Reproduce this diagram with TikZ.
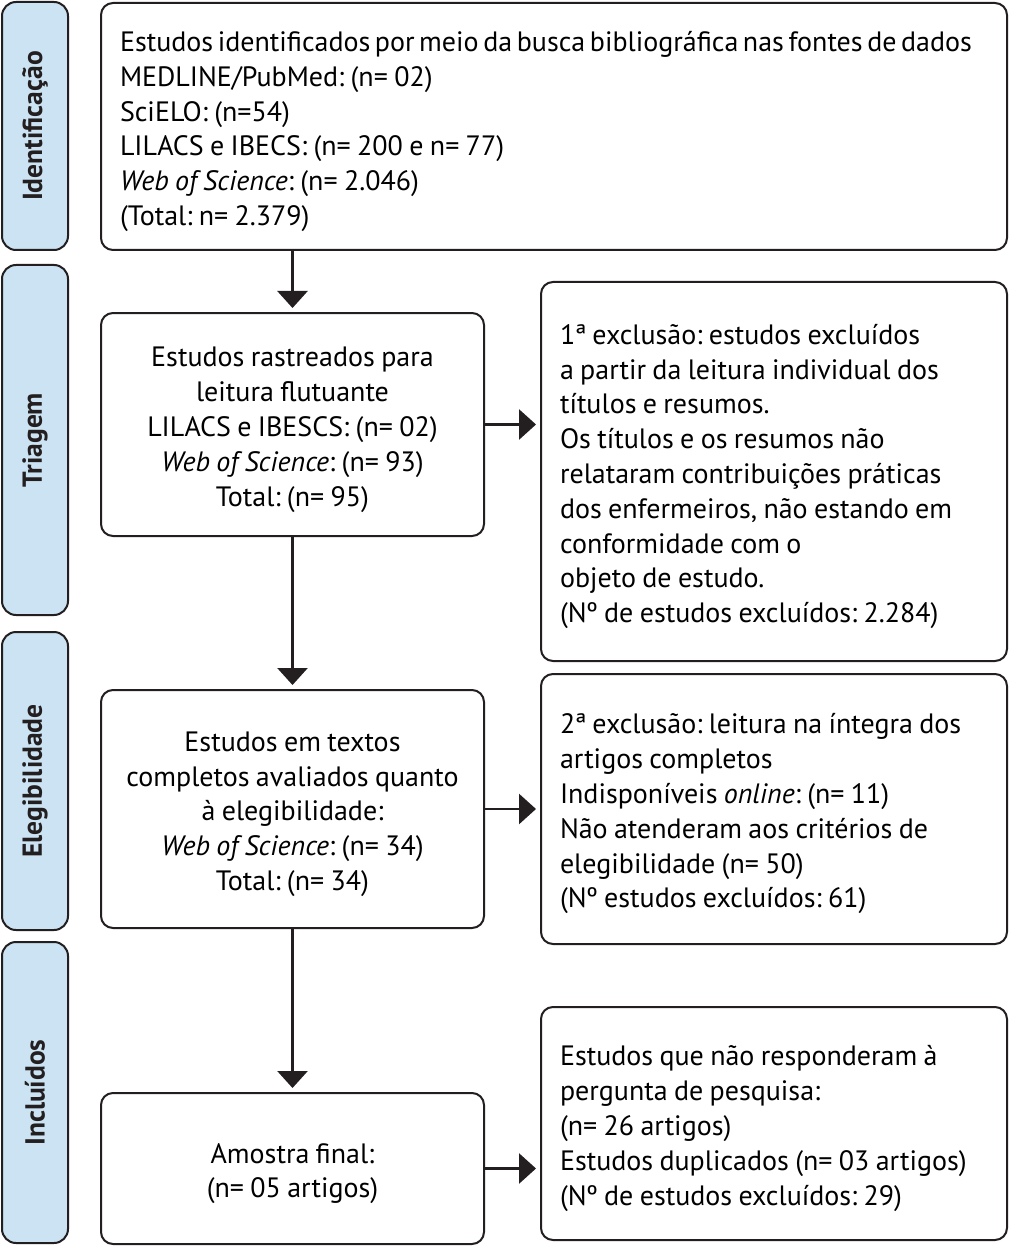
\documentclass[tikz,border=0pt]{standalone}
\usepackage{fontspec}
\setmainfont[WordSpace=0.85]{PT Sans}
\usetikzlibrary{arrows.meta}
\definecolor{sidefill}{HTML}{CBE3F2}
\definecolor{edge}{HTML}{231F20}
\newcommand\firststrut{\rule{0pt}{30pt}}
\tikzset{
  box/.style={draw=edge, line width=2pt, rounded corners=12pt, inner xsep=19pt, inner ysep=0pt,
    font=\fontsize{28}{34.8}\selectfont\frenchspacing},
  lbox/.style={box, align=flush left},
  cbox/.style={box, align=center},
  side/.style={draw=edge, fill=sidefill, line width=2pt, rounded corners=14pt, minimum width=66pt,
    inner sep=0pt},
  sidetext/.style={rotate=90, font=\fontsize{27.5}{32}\selectfont\bfseries, text=edge, inner sep=0pt},
  arr/.style={draw=edge, line width=2.8pt, -{Triangle[width=30pt,length=17pt]}, shorten >=4pt}
}
\begin{document}
\begin{tikzpicture}[x=1pt,y=-1pt]
\useasboundingbox (0,0) rectangle (1010,1246);
% side labels
\node[side, minimum height=248pt] (s1) at (35,126) {};
\node[sidetext] (t1) at (s1.center) {Identificação};
\node[side, minimum height=350pt] (s2) at (35,440) {};
\node[sidetext] (t2) at (s2.center) {Triagem};
\node[side, minimum height=298pt] (s3) at (35,781) {};
\node[sidetext] (t3) at (s3.center) {Elegibilidade};
\node[side, minimum height=301pt] (s4) at (35,1092.5) {};
\node[sidetext] (t4) at (s4.center) {Incluídos};
% main boxes
\node[lbox, minimum width=906pt, minimum height=247pt, text width=868pt] (top) at (554,126.5) {%
\firststrut\makebox[\linewidth][l]{\spaceskip=0.72\fontdimen2\font Estudos identificados por meio da busca bibliográfica nas fontes de dados}\\
MEDLINE/PubMed: (n= 02)\\
SciELO: (n=54)\\
LILACS e IBECS: (n= 200 e n= 77)\\
\textit{Web of Science}: (n= 2.046)\\
(Total: n= 2.379)};
\node[cbox, minimum width=383pt, minimum height=223pt] (tri) at (292.5,424.5) {%
\firststrut Estudos rastreados para\\
leitura flutuante\\
LILACS e IBESCS: (n= 02)\\
\textit{Web of Science}: (n= 93)\\
Total: (n= 95)};
\node[lbox, minimum width=466pt, minimum height=379pt, text width=428pt] (ex1) at (774,471.5) {%
\firststrut 1ª exclusão: estudos excluídos\\
a partir da leitura individual dos\\
títulos e resumos.\\
Os títulos e os resumos não\\
relataram contribuições práticas\\
dos enfermeiros, não estando em\\
conformidade com o\\
objeto de estudo.\\
(Nº de estudos excluídos: 2.284)};
\node[cbox, minimum width=383pt, minimum height=238pt] (ele) at (292.5,809) {%
\firststrut Estudos em textos\\
completos avaliados quanto\\
à elegibilidade:\\
\textit{Web of Science}: (n= 34)\\
Total: (n= 34)};
\node[lbox, minimum width=466pt, minimum height=270pt, text width=428pt] (ex2) at (774,809) {%
\firststrut 2ª exclusão: leitura na íntegra dos\\
artigos completos\\
Indisponíveis \textit{online}: (n= 11)\\
Não atenderam aos critérios de\\
elegibilidade (n= 50)\\
(Nº estudos excluídos: 61)};
\node[cbox, minimum width=383pt, minimum height=151pt] (inc) at (292.5,1168.5) {%
\firststrut Amostra final:\\
(n= 05 artigos)};
\node[lbox, minimum width=466pt, minimum height=233pt, text width=428pt] (ex3) at (774,1123.5) {%
\firststrut Estudos que não responderam à\\
pergunta de pesquisa:\\
(n= 26 artigos)\\
Estudos duplicados (n= 03 artigos)\\
(Nº de estudos excluídos: 29)};
% arrows
\draw[arr] (top.south -| tri.north) -- (tri.north);
\draw[arr] (tri.south) -- (ele.north);
\draw[arr] (ele.south) -- (inc.north);
\draw[arr] (tri.east) -- (tri.east -| ex1.west);
\draw[arr] (ele.east) -- (ele.east -| ex2.west);
\draw[arr] (inc.east) -- (inc.east -| ex3.west);
\end{tikzpicture}
\end{document}
